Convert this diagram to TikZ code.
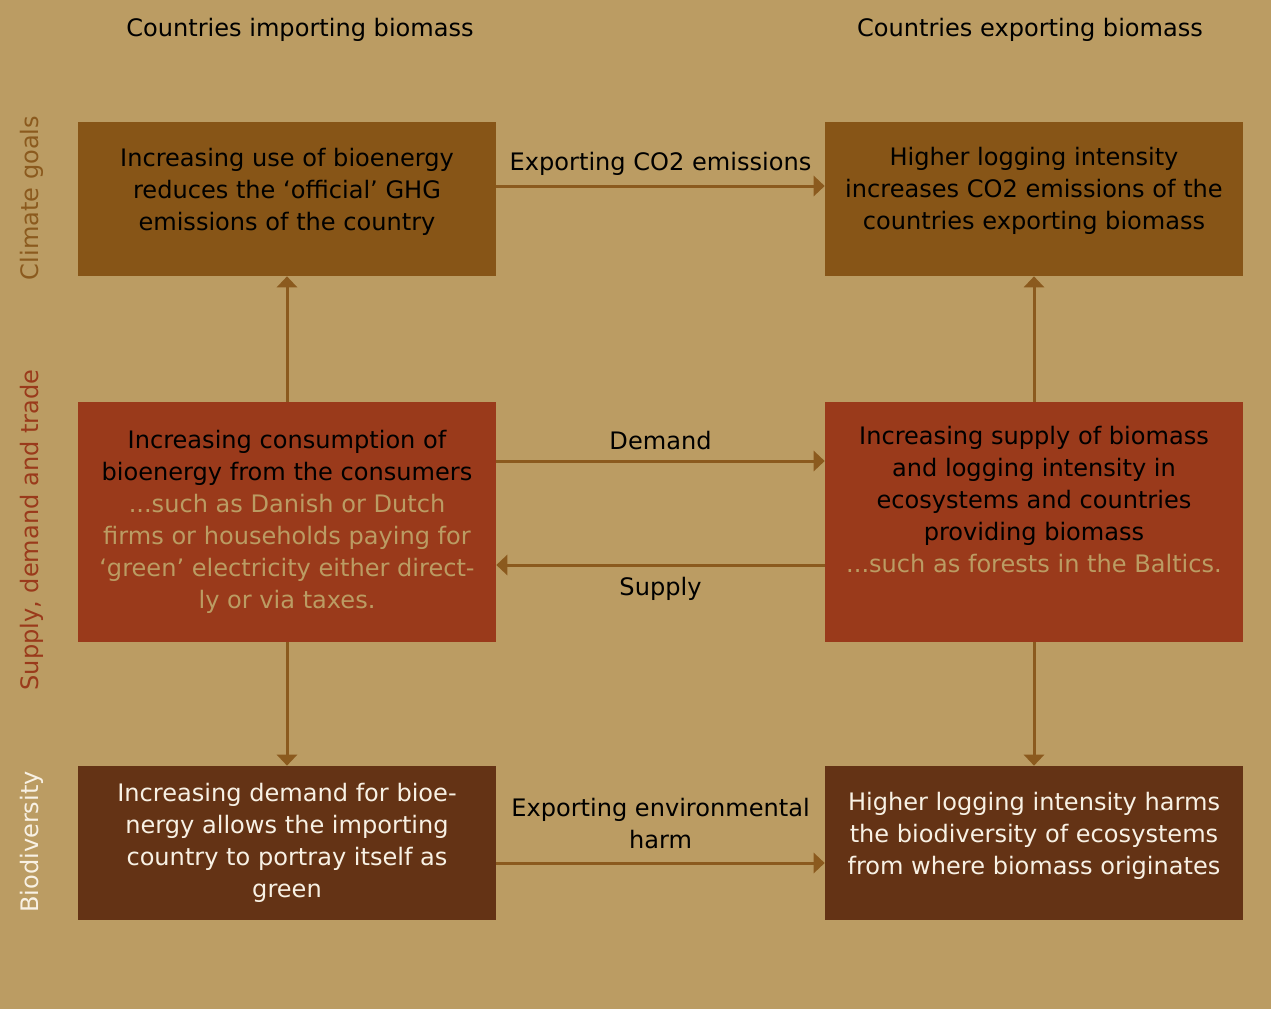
\documentclass[tikz,border=0pt]{standalone}
\usepackage{fontspec}
\setmainfont{DejaVu Sans}
\usetikzlibrary{arrows.meta}

\definecolor{sand}{HTML}{BB9C63}
\definecolor{ochre}{HTML}{875517}
\definecolor{rust}{HTML}{9A3A1B}
\definecolor{umber}{HTML}{643315}
\definecolor{linebrown}{HTML}{8B5A1E}
\definecolor{paper}{HTML}{F8F1E4}

\tikzset{
  box/.style={minimum width=8.36cm, minimum height=3.08cm, align=center, inner sep=0pt},
  tallbox/.style={box, minimum height=4.8cm},
  flow/.style={draw=linebrown, line width=0.06cm, -{Triangle[width=0.4cm,length=0.22cm]}},
  side/.style={rotate=90},
}

\begin{document}
\begin{tikzpicture}[x=0.02cm, y=-0.02cm, font=\fontsize{13.7}{18.2}\selectfont]
    % Background
    \useasboundingbox (0,0) rectangle (1271,1008);
    \fill[sand] (-4,-4) rectangle (1275,1012);

    % Column headings
    \node (importers) at (300,30) {Countries importing biomass};
    \node (exporters) at (1030,30) {Countries exporting biomass};

    % Row headings
    \node[side, text=linebrown] (climate) at (32,198) {Climate goals};
    \node[side, text=rust] (trade) at (32,530) {Supply, demand and trade};
    \node[side, text=paper] (biodiv) at (32,842) {Biodiversity};

    % Climate row
    \node[box, fill=ochre] (officialGHG) at (287,199)
        {Increasing use of bioenergy\\reduces the ‘official’ GHG\\emissions of the country\\[-0.24cm]\mbox{}};
    \node[box, fill=ochre] (loggingCO2) at (1034,199)
        {Higher logging intensity\\increases CO2 emissions of the\\countries exporting biomass\\[-0.2cm]\mbox{}};

    % Trade row
    \node[tallbox, fill=rust] (consumption) at (287,522)
        {Increasing consumption of\\bioenergy from the consumers\\
         \textcolor{sand}{...such as Danish or Dutch}\\
         \textcolor{sand}{firms or households paying for}\\
         \textcolor{sand}{‘green’ electricity either direct-}\\
         \textcolor{sand}{ly or via taxes.}};
    \node[tallbox, fill=rust] (supply) at (1034,522)
        {Increasing supply of biomass\\and logging intensity in\\ecosystems and countries\\providing biomass\\
         \textcolor{sand}{...such as forests in the Baltics.}\\[0.28cm]\mbox{}};

    % Biodiversity row
    \node[box, fill=umber, text=paper] (greenImage) at (287,843)
        {Increasing demand for bioe-\\nergy allows the importing\\country to portray itself as\\green};
    \node[box, fill=umber, text=paper] (habitatLoss) at (1034,843)
        {Higher logging intensity harms\\the biodiversity of ecosystems\\from where biomass originates\\[-0.24cm]\mbox{}};

    % Horizontal links
    \draw[flow] ([yshift=0.26cm]officialGHG.east) -- ([yshift=0.26cm]loggingCO2.west)
        node[midway, above=2pt] {Exporting CO2 emissions};
    \draw[flow] ([yshift=1.22cm]consumption.east) -- ([yshift=1.22cm]supply.west)
        node[midway, above=2pt] {Demand};
    \draw[flow] ([yshift=-0.86cm]supply.west) -- ([yshift=-0.86cm]consumption.east)
        node[midway, below=3pt] {Supply};
    \draw[flow] ([yshift=-0.4cm]greenImage.east) -- ([yshift=-0.4cm]habitatLoss.west)
        node[midway, above=4pt, align=center] {Exporting environmental\\harm};

    % Vertical links
    \draw[flow] (consumption) -- (officialGHG);
    \draw[flow] (consumption) -- (greenImage);
    \draw[flow] (supply) -- (loggingCO2);
    \draw[flow] (supply) -- (habitatLoss);
\end{tikzpicture}
\end{document}
